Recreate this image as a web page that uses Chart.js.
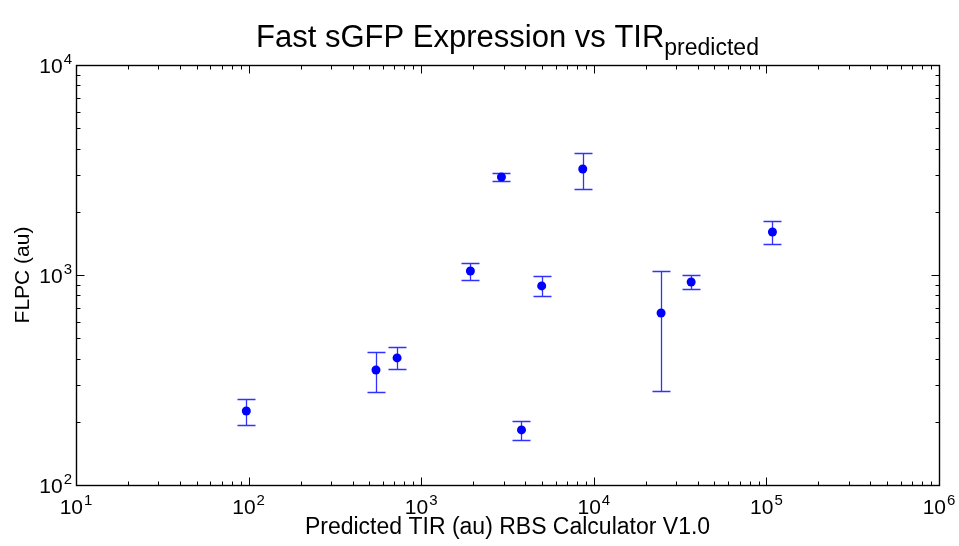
<!DOCTYPE html>
<html><head><meta charset="utf-8">
<script src="https://cdn.jsdelivr.net/npm/chart.js@4.4.0/dist/chart.umd.min.js"></script>
<style>html,body{margin:0;padding:0;background:#fff}#wrap{width:959px;height:546px}</style>
</head><body><div id="wrap"><canvas id="c" width="959" height="546"></canvas></div>
<script>
// Data
const tirPredicted = [97, 547, 725, 1928, 2917, 3811, 4990, 8630, 24540, 36650, 108400];
const flpcMean     = [225, 353, 403, 1045, 2929, 183, 887, 3199, 659, 926, 1603];
const flpcUpper    = [257, 430, 454, 1141, 3060, 202, 988, 3811, 1045, 1000, 1807];
const flpcLower    = [193, 277, 357, 946, 2805, 164, 794, 2570, 280, 857, 1406];
const xTickExponents = [1, 2, 3, 4, 5, 6];
const yTickExponents = [2, 3, 4];

const FONT = '"Liberation Sans", Arial, sans-serif';
const BLUE = '#0000ff';
const BAR_BLUE = 'rgb(50,50,255)';

const points = tirPredicted.map((x, i) => ({x: x, y: flpcMean[i], hi: flpcUpper[i], lo: flpcLower[i]}));

const errorBars = {
  id: 'errorBars',
  beforeDatasetsDraw(chart) {
    const ctx = chart.ctx, xs = chart.scales.x, ys = chart.scales.y;
    ctx.save();
    ctx.strokeStyle = BAR_BLUE;
    ctx.lineWidth = 1.3;
    points.forEach(p => {
      const px = Math.round(xs.getPixelForValue(p.x)) + 0.5;
      const top = Math.round(ys.getPixelForValue(p.hi)) + 0.5;
      const bot = Math.round(ys.getPixelForValue(p.lo)) + 0.5;
      ctx.beginPath();
      ctx.moveTo(px, top); ctx.lineTo(px, bot);
      ctx.stroke();
      ctx.beginPath();
      ctx.moveTo(px - 9, top); ctx.lineTo(px + 9, top);
      ctx.moveTo(px - 9, bot); ctx.lineTo(px + 9, bot);
      ctx.stroke();
    });
    ctx.restore();
  }
};

function drawPow(ctx, exp, x, y, align) {
  ctx.font = '21px ' + FONT;
  const w1 = ctx.measureText('10').width;
  ctx.font = '15px ' + FONT;
  const w2 = ctx.measureText(String(exp)).width;
  const total = w1 + 1 + w2;
  let left = align === 'center' ? x - total / 2 : x - total;
  ctx.textAlign = 'left';
  ctx.textBaseline = 'alphabetic';
  ctx.font = '21px ' + FONT;
  ctx.fillText('10', left, y);
  ctx.font = '15px ' + FONT;
  ctx.fillText(String(exp), left + w1 + 1, y - 9);
}

const frame = {
  id: 'frame',
  afterDatasetsDraw(chart) {
    const ctx = chart.ctx, a = chart.chartArea, xs = chart.scales.x, ys = chart.scales.y;
    ctx.save();
    ctx.strokeStyle = '#000';
    ctx.fillStyle = '#000';
    ctx.lineWidth = 1;
    const L = Math.round(a.left) + 0.5, R = Math.round(a.right) + 0.5;
    const T = Math.round(a.top) + 0.5, B = Math.round(a.bottom) + 0.5;
    // ticks
    ctx.beginPath();
    for (let e = xTickExponents[0]; e < xTickExponents[xTickExponents.length - 1]; e++) {
      for (let k = 1; k <= 9; k++) {
        const v = k * Math.pow(10, e);
        if (k === 1 && e === xTickExponents[0]) continue;
        const px = Math.round(xs.getPixelForValue(v)) + 0.5;
        const len = k === 1 ? 8 : 4;
        ctx.moveTo(px, B); ctx.lineTo(px, B - len);
        ctx.moveTo(px, T); ctx.lineTo(px, T + len);
      }
    }
    for (let e = yTickExponents[0]; e < yTickExponents[yTickExponents.length - 1]; e++) {
      for (let k = 1; k <= 9; k++) {
        const v = k * Math.pow(10, e);
        if (k === 1 && e === yTickExponents[0]) continue;
        const py = Math.round(ys.getPixelForValue(v)) + 0.5;
        const len = k === 1 ? 8 : 4;
        ctx.moveTo(L, py); ctx.lineTo(L + len, py);
        ctx.moveTo(R, py); ctx.lineTo(R - len, py);
      }
    }
    ctx.stroke();
    ctx.lineWidth = 1.4;
    ctx.strokeRect(L, T, R - L, B - T);
    // tick labels
    xTickExponents.forEach(e => {
      drawPow(ctx, e, xs.getPixelForValue(Math.pow(10, e)), a.bottom + 29, 'center');
    });
    yTickExponents.forEach(e => {
      drawPow(ctx, e, a.left - 4, ys.getPixelForValue(Math.pow(10, e)) + 8, 'right');
    });
    // axis titles
    ctx.font = '23px ' + FONT;
    ctx.textAlign = 'center';
    ctx.fillText('Predicted TIR (au) RBS Calculator V1.0', (a.left + a.right) / 2, 534);
    ctx.save();
    ctx.font = '21px ' + FONT;
    ctx.translate(29, (a.top + a.bottom) / 2);
    ctx.rotate(-Math.PI / 2);
    ctx.fillText('FLPC (au)', 0, 0);
    ctx.restore();
    // title with subscript
    ctx.font = '31px ' + FONT;
    const t1 = 'Fast sGFP Expression vs TIR';
    const w1 = ctx.measureText(t1).width;
    ctx.font = '23px ' + FONT;
    const t2 = 'predicted';
    const w2 = ctx.measureText(t2).width;
    const left = (a.left + a.right) / 2 - (w1 + w2) / 2;
    ctx.textAlign = 'left';
    ctx.font = '31px ' + FONT;
    ctx.fillText(t1, left, 47);
    ctx.font = '23px ' + FONT;
    ctx.fillText(t2, left + w1, 55);
    ctx.restore();
  }
};

new Chart(document.getElementById('c'), {
  type: 'scatter',
  data: {
    datasets: [{
      label: 'FLPC',
      data: points,
      backgroundColor: BLUE,
      borderColor: BLUE,
      borderWidth: 0,
      pointRadius: 4.5,
      pointHoverRadius: 4.5
    }]
  },
  options: {
    responsive: false,
    devicePixelRatio: 1,
    animation: false,
    layout: {padding: {left: 76, top: 65, right: 20, bottom: 61}},
    plugins: {legend: {display: false}, tooltip: {enabled: false}, title: {display: false}},
    scales: {
      x: {type: 'logarithmic', min: 10, max: 1000000, display: false},
      y: {type: 'logarithmic', min: 100, max: 10000, display: false}
    }
  },
  plugins: [errorBars, frame]
});
</script>
</body></html>
